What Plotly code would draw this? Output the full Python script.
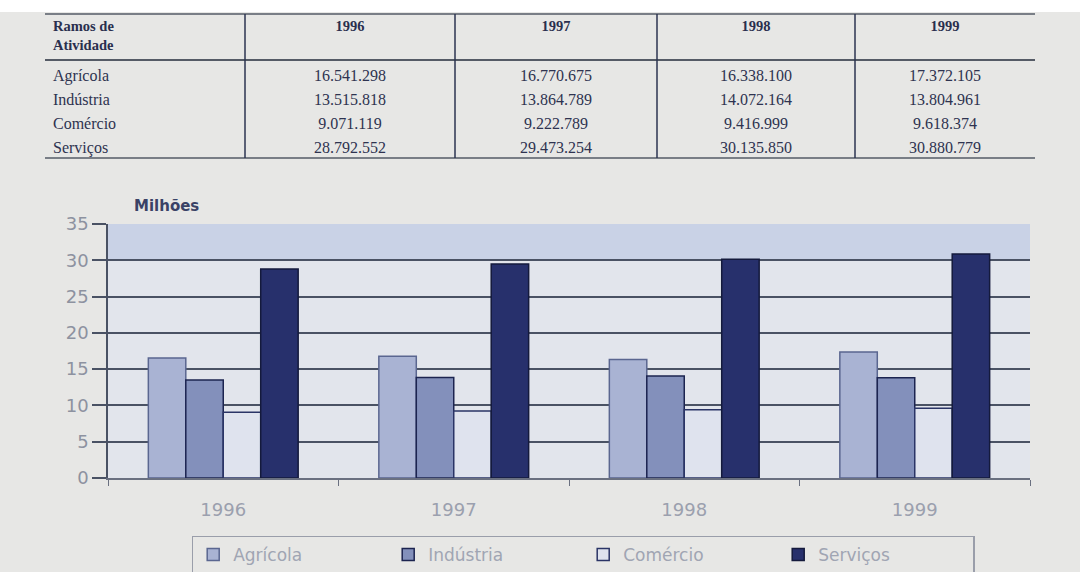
import plotly.graph_objects as go

years = ["1996", "1997", "1998", "1999"]
sectors = ["Agrícola", "Indústria", "Comércio", "Serviços"]
agricola = [16541298, 16770675, 16338100, 17372105]
industria = [13515818, 13864789, 14072164, 13804961]
comercio = [9071119, 9222789, 9416999, 9618374]
servicos = [28792552, 29473254, 30135850, 30880779]
y_ticks = [0, 5, 10, 15, 20, 25, 30, 35]

series = [agricola, industria, comercio, servicos]
bar_colors = ["#a9b3d3", "#8390bb", "#dfe3ee", "#27306c"]
line_colors = ["#5a6690", "#1c2450", "#2a3466", "#141a3c"]

W, H = 1080, 572
BG = "#e7e7e5"
CLEAR = "rgba(0,0,0,0)"

def fmt(v):
    return f"{v:,}".replace(",", ".")

fig = go.Figure()

# table
header = ["Ramos de<br>Atividade"] + years
cells = [sectors] + [[fmt(s[i]) for s in series] for i in range(len(years))]
fig.add_trace(go.Table(
    domain=dict(x=[45 / W, 1035 / W], y=[1 - 172 / H, 1 - 10 / H]),
    columnwidth=[200, 210, 202, 198, 180],
    header=dict(values=[f"<b>{h}</b>" for h in header],
                align=["left", "center", "center", "center", "center"],
                fill_color=CLEAR, line_color=CLEAR, height=44,
                font=dict(family="Liberation Serif", size=14.5, color="#2a2f4e")),
    cells=dict(values=cells,
               align=["left", "center", "center", "center", "center"],
               fill_color=CLEAR, line_color=CLEAR, height=24,
               font=dict(family="Liberation Serif", size=16, color="#2e3350")),
))

# bars
for name, vals, c, lc in zip(sectors, series, bar_colors, line_colors):
    fig.add_trace(go.Bar(
        x=years, y=[v / 1e6 for v in vals], name=name,
        marker=dict(color=c, line=dict(color=lc, width=1.5)),
    ))

shapes = [
    # white strip at top of photo
    dict(type="rect", xref="paper", yref="paper", x0=0, x1=1, y0=1 - 12 / H, y1=1,
         fillcolor="white", line_width=0, layer="above"),
    # top band of plot area
    dict(type="rect", xref="x domain", yref="y", x0=0, x1=1, y0=30, y1=35,
         fillcolor="#c9d2e6", line_width=0, layer="below"),
]
# table rules
for yy, w in [(14, 1.5), (60, 2), (158, 1.5)]:
    shapes.append(dict(type="line", xref="paper", yref="paper",
                       x0=45 / W, x1=1035 / W, y0=1 - yy / H, y1=1 - yy / H,
                       line=dict(color="#555b66", width=w)))
for xx in [245, 455, 657, 855]:
    shapes.append(dict(type="line", xref="paper", yref="paper",
                       x0=xx / W, x1=xx / W, y0=1 - 158 / H, y1=1 - 14 / H,
                       line=dict(color="#2c3550", width=1.5)))

fig.update_layout(
    width=W, height=H,
    margin=dict(l=0, r=0, t=0, b=0, autoexpand=False),
    paper_bgcolor=BG, plot_bgcolor="#e2e5ec",
    barmode="group", bargap=0.35, bargroupgap=0.0,
    font=dict(family="DejaVu Sans", color="#9096a6"),
    shapes=shapes,
    xaxis=dict(domain=[108 / W, 1030 / W], anchor="y",
               showgrid=False, showline=True, linecolor="#6a7080", linewidth=1.5,
               ticks="outside", tickson="boundaries", ticklen=6, tickcolor="#6a7080",
               tickfont=dict(size=18, color="#9ba0ae"), ticklabelstandoff=15),
    yaxis=dict(domain=[1 - 478 / H, 1 - 224 / H], range=[0, 35],
               tickvals=y_ticks, showgrid=True, gridcolor="#4a5264", gridwidth=1.5,
               showline=True, linecolor="#4a5264", linewidth=1.5,
               ticks="outside", ticklen=14, tickcolor="#4a5264", tickwidth=1.5,
               tickfont=dict(size=18, color="#8d92a0"), zeroline=False),
    legend=dict(orientation="h", x=0.54, xanchor="center", y=1 - 555 / H, yanchor="middle",
                bgcolor=BG, bordercolor="#9a9eaa", borderwidth=1.5,
                font=dict(size=17, color="#a0a5b3"),
                entrywidth=150, entrywidthmode="pixels", traceorder="normal"),
    annotations=[dict(text="<b>Milhões</b>", xref="paper", yref="paper",
                      x=132 / W, y=1 - 206 / H, xanchor="left", yanchor="middle",
                      showarrow=False, font=dict(size=15, color="#3a4266"))],
)

post = ("document.documentElement.style.overflow='hidden';"
        "document.body.style.margin='0';document.body.style.overflow='hidden';"
        "var d=document.getElementById('{plot_id}');"
        "d.style.position='fixed';d.style.top='0px';d.style.left='0px';")
fig.write_html("out.html", config={"displayModeBar": False}, post_script=post)
